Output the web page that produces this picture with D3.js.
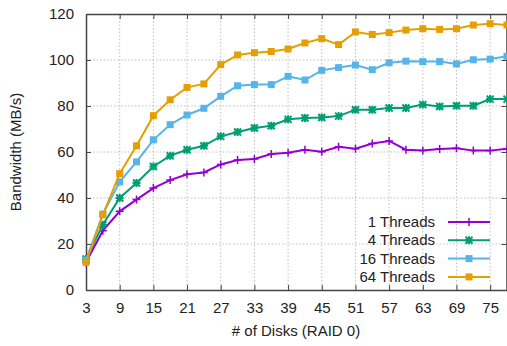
<!DOCTYPE html>
<html>
<head>
<meta charset="utf-8">
<script src="https://cdn.jsdelivr.net/npm/d3@7"></script>
<style>
  body { margin: 0; background: #fff; }
  text { font-family: "Liberation Sans", Arial, sans-serif; font-size: 15px; fill: #222; }
</style>
</head>
<body>
<div id="chart"></div>
<script>
// number of disks
var disks = [3, 6, 9, 12, 15, 18, 21, 24, 27, 30, 33, 36, 39, 42, 45, 48, 51, 54, 57, 60, 63, 66, 69, 72, 75, 78];

var threads1  = [12, 25.8, 34.2, 39.3, 44.3, 47.8, 50.3, 51.1, 54.6, 56.5, 57, 59.1, 59.7, 61, 60.1, 62.3, 61.4, 63.7, 64.8, 61, 60.6, 61.3, 61.6, 60.6, 60.6, 61.4];
var threads4  = [13.5, 28.4, 40, 46.5, 53.7, 58.4, 61, 62.7, 66.8, 68.7, 70.4, 71.4, 74.2, 74.8, 75, 75.6, 78.4, 78.4, 79.1, 79.1, 80.6, 79.8, 80.1, 80.1, 83, 83];
var threads16 = [13, 33, 47, 55.7, 65.3, 71.9, 76.1, 79, 84.2, 88.8, 89.3, 89.3, 92.9, 91.3, 95.5, 96.7, 97.8, 95.8, 98.8, 99.5, 99.3, 99.3, 98.3, 100.1, 100.4, 101.6];
var threads64 = [12, 32.7, 50.6, 62.7, 75.8, 82.7, 88.1, 89.6, 98, 102.2, 103.2, 103.7, 104.8, 107.4, 109.3, 106.7, 112.2, 111.1, 111.9, 113, 113.6, 113.3, 113.6, 115.2, 115.8, 115.2];

var seriesNames = ["1 Threads", "4 Threads", "16 Threads", "64 Threads"];
var seriesColors = ["#9400D3", "#009E73", "#56B4E9", "#E69F00"];
var seriesMarks = ["plus", "star", "square", "square"];

var xTicks = [3, 9, 15, 21, 27, 33, 39, 45, 51, 57, 63, 69, 75];
var yTicks = [0, 20, 40, 60, 80, 100, 120];

var width = 507, height = 346;
var padL = 86, padR = 507, padT = 14, padB = 290;

var svg = d3.select("#chart").append("svg")
    .attr("width", width)
    .attr("height", height)
    .style("display", "block");

var x = d3.scaleLinear().domain([3, 78]).range([padL, padR]);
var y = d3.scaleLinear().domain([0, 120]).range([padB, padT]);

// grid
var grid = svg.append("g");
grid.selectAll(".gx").data(xTicks.slice(1)).enter().append("line")
    .attr("x1", d => x(d)).attr("x2", d => x(d))
    .attr("y1", padT).attr("y2", padB)
    .style("stroke", "#b0b0b0").style("stroke-width", 0.8).style("stroke-dasharray", "1.5,2");
grid.selectAll(".gy").data(yTicks.slice(1, -1)).enter().append("line")
    .attr("x1", padL).attr("x2", padR)
    .attr("y1", d => y(d)).attr("y2", d => y(d))
    .style("stroke", "#b0b0b0").style("stroke-width", 0.8).style("stroke-dasharray", "1.5,2");

// axes with inward ticks
var xAxis = svg.append("g").attr("transform", `translate(0,${padB})`)
    .call(d3.axisBottom(x).tickValues(xTicks).tickSizeInner(-5).tickSizeOuter(0).tickPadding(12));
var xAxisTop = svg.append("g").attr("transform", `translate(0,${padT})`)
    .call(d3.axisTop(x).tickValues(xTicks).tickSizeInner(-5).tickSizeOuter(0).tickFormat(""));
var yAxis = svg.append("g").attr("transform", `translate(${padL},0)`)
    .call(d3.axisLeft(y).tickValues(yTicks).tickSizeInner(-5).tickSizeOuter(0).tickPadding(12));
var yAxisRight = svg.append("g").attr("transform", `translate(${padR - 0.5},0)`)
    .call(d3.axisRight(y).tickValues(yTicks).tickSizeInner(-5).tickSizeOuter(0).tickFormat(""));

[xAxis, xAxisTop, yAxis, yAxisRight].forEach(function (g) {
    g.select(".domain").style("stroke", "#444").style("stroke-width", 1.5);
    g.selectAll(".tick line").style("stroke", "#444").style("stroke-width", 1);
    g.selectAll("text").style("font-size", "15px").style("fill", "#222")
        .style("font-family", "Liberation Sans, Arial, sans-serif");
});

// axis titles
svg.append("text")
    .attr("x", 296).attr("y", 336)
    .attr("text-anchor", "middle")
    .text("# of Disks (RAID 0)");
svg.append("text")
    .attr("transform", `translate(21,${(padT + padB) / 2}) rotate(-90)`)
    .attr("text-anchor", "middle")
    .text("Bandwidth (MB/s)");

function drawMark(g, type, color, cx, cy) {
    if (type === "square") {
        g.append("rect").attr("x", cx - 3.5).attr("y", cy - 3.5).attr("width", 7).attr("height", 7)
            .style("fill", color);
    } else if (type === "plus") {
        g.append("path").attr("d", `M${cx - 4},${cy}H${cx + 4}M${cx},${cy - 4}V${cy + 4}`)
            .style("stroke", color).style("stroke-width", 1.5);
    } else {
        g.append("path").attr("d", `M${cx - 4},${cy}H${cx + 4}M${cx},${cy - 4}V${cy + 4}M${cx - 3.5},${cy - 3.5}L${cx + 3.5},${cy + 3.5}M${cx - 3.5},${cy + 3.5}L${cx + 3.5},${cy - 3.5}`)
            .style("stroke", color).style("stroke-width", 2);
    }
}

var allSeries = [threads1, threads4, threads16, threads64];
var line = d3.line().x((d, i) => x(disks[i])).y(d => y(d));

var plot = svg.append("g");
allSeries.forEach(function (vals, s) {
    var g = plot.append("g");
    g.append("path").datum(vals).attr("d", line)
        .style("fill", "none").style("stroke", seriesColors[s]).style("stroke-width", 2);
    vals.forEach(function (v, i) {
        drawMark(g, seriesMarks[s], seriesColors[s], x(disks[i]), y(v));
    });
});

// legend
var legend = svg.append("g");
seriesNames.forEach(function (name, i) {
    var ly = 222 + i * 18.3;
    legend.append("text").attr("x", 435).attr("y", ly + 5).attr("text-anchor", "end").text(name);
    legend.append("line").attr("x1", 448).attr("x2", 490).attr("y1", ly).attr("y2", ly)
        .style("stroke", seriesColors[i]).style("stroke-width", 2);
    drawMark(legend, seriesMarks[i], seriesColors[i], 469, ly);
});
</script>
</body>
</html>
